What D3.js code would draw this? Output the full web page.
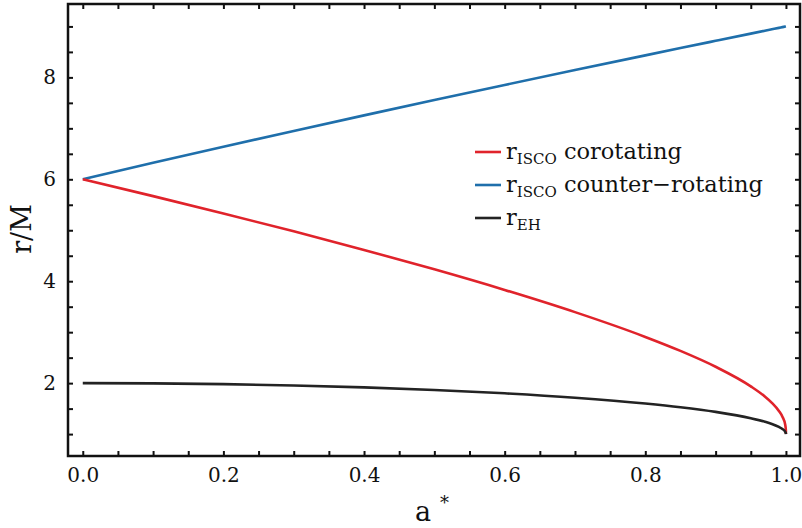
<!DOCTYPE html>
<html>
<head>
<meta charset="utf-8">
<script src="https://cdn.jsdelivr.net/npm/d3@7"></script>
<style>
  html, body { margin: 0; padding: 0; background: #fff; }
  svg { display: block; }
  text { font-family: "DejaVu Serif", serif; fill: #111; }
</style>
</head>
<body>
<svg id="chart" width="802" height="528"></svg>
<script>
// Spin parameter samples (denser towards the extremal limit a* = 1)
const spin = [0, 0.1, 0.2, 0.3, 0.4, 0.5, 0.6, 0.7, 0.8, 0.85, 0.9, 0.95, 0.97, 0.98, 0.99, 0.995, 0.999, 0.9999, 1];

// Innermost stable circular orbit, prograde (corotating) orbits, in units of M
const iscoCo = [6, 5.6695, 5.3294, 4.9785, 4.6143, 4.2331, 3.8291, 3.3931, 2.9067, 2.6321, 2.3211, 1.9372, 1.7376, 1.6141, 1.4545, 1.3409, 1.1818, 1.0785, 1];

// Innermost stable circular orbit, retrograde (counter-rotating) orbits
const iscoCounter = [6, 6.3227, 6.6391, 6.9493, 7.2543, 7.5545, 7.8507, 8.1430, 8.4318, 8.5750, 8.7173, 8.8590, 8.9155, 8.9437, 8.9719, 8.9859, 8.9972, 8.9997, 9];

// Event horizon radius
const horizon = [2, 1.9950, 1.9798, 1.9539, 1.9165, 1.8660, 1.8, 1.7141, 1.6, 1.5268, 1.4359, 1.3122, 1.2431, 1.1990, 1.1411, 1.0999, 1.0447, 1.0141, 1];

const xTickValues = [0, 0.2, 0.4, 0.6, 0.8, 1.0];
const yTickValues = [2, 4, 6, 8];

const seriesColors = { co: "#e0232b", counter: "#1f6fab", eh: "#232323" };

const frame = { left: 68, right: 800, top: 4, bottom: 456 };

const x = d3.scaleLinear().domain([-0.021, 1.02]).range([frame.left, frame.right]);
const y = d3.scaleLinear().domain([0.57, 9.44]).range([frame.bottom, frame.top]);

const svg = d3.select("#chart");

// Curves
const line = d3.line()
  .x(d => x(d[0]))
  .y(d => y(d[1]))
  .curve(d3.curveMonotoneX);

const series = [
  { key: "counter", values: iscoCounter },
  { key: "co", values: iscoCo },
  { key: "eh", values: horizon }
];

const plot = svg.append("g");
series.forEach(s => {
  plot.append("path")
    .datum(spin.map((a, i) => [a, s.values[i]]))
    .attr("fill", "none")
    .attr("stroke", seriesColors[s.key])
    .attr("stroke-width", 2.6)
    .attr("stroke-linejoin", "round")
    .attr("d", line);
});

// Frame ticks on all four sides
const xMinor = d3.range(0, 1.0001, 0.05);
const yMinor = d3.range(1, 9.0001, 0.5);
const isMajorX = v => xTickValues.some(t => Math.abs(t - v) < 1e-6);
const isMajorY = v => yTickValues.some(t => Math.abs(t - v) < 1e-6);

const axisStyle = g => {
  g.select(".domain").remove();
  g.selectAll(".tick line").attr("stroke", "#111").attr("stroke-width", 2);
  g.selectAll(".tick text").attr("font-family", "DejaVu Serif").attr("font-size", 20).attr("fill", "#111");
};

svg.append("g")
  .attr("transform", `translate(0,${frame.bottom})`)
  .call(d3.axisBottom(x).tickValues(xMinor).tickSize(-5).tickPadding(12)
    .tickFormat(v => isMajorX(v) ? d3.format(".1f")(v) : ""))
  .call(axisStyle);

svg.append("g")
  .attr("transform", `translate(0,${frame.top})`)
  .call(d3.axisTop(x).tickValues(xMinor).tickSize(-5).tickFormat(""))
  .call(axisStyle);

svg.append("g")
  .attr("transform", `translate(${frame.left},0)`)
  .call(d3.axisLeft(y).tickValues(yMinor).tickSize(-5).tickPadding(12)
    .tickFormat(v => isMajorY(v) ? d3.format("d")(v) : ""))
  .call(axisStyle);

svg.append("g")
  .attr("transform", `translate(${frame.right},0)`)
  .call(d3.axisRight(y).tickValues(yMinor).tickSize(-5).tickFormat(""))
  .call(axisStyle);

// Frame box
svg.append("rect")
  .attr("x", frame.left).attr("y", frame.top)
  .attr("width", frame.right - frame.left).attr("height", frame.bottom - frame.top)
  .attr("fill", "none").attr("stroke", "#111").attr("stroke-width", 2.5);

// Axis titles
svg.append("text")
  .attr("transform", `translate(31,229) rotate(-90)`)
  .attr("text-anchor", "middle")
  .attr("font-size", 27)
  .text("r/M");

const xTitle = svg.append("text")
  .attr("x", 432).attr("y", 521)
  .attr("text-anchor", "middle")
  .attr("font-size", 27);
xTitle.append("tspan").text("a");
xTitle.append("tspan").attr("dx", 9).attr("dy", -12).attr("font-size", 18).text("*");

// Legend
const legendItems = [
  { key: "co", sub: "ISCO", rest: " corotating" },
  { key: "counter", sub: "ISCO", rest: " counter\u2212rotating" },
  { key: "eh", sub: "EH", rest: "" }
];
const legend = svg.append("g").attr("transform", "translate(475,152)");
legendItems.forEach((it, i) => {
  const row = legend.append("g").attr("transform", `translate(0,${i * 33})`);
  row.append("line")
    .attr("x1", 0).attr("x2", 26).attr("y1", 0).attr("y2", 0)
    .attr("stroke", seriesColors[it.key]).attr("stroke-width", 2.6);
  const t = row.append("text").attr("x", 31).attr("y", 7).attr("font-size", 22.5);
  t.append("tspan").text("r");
  t.append("tspan").attr("dy", 5).attr("font-size", 15).text(it.sub);
  if (it.rest) t.append("tspan").attr("dy", -5).text(it.rest);
});
</script>
</body>
</html>
